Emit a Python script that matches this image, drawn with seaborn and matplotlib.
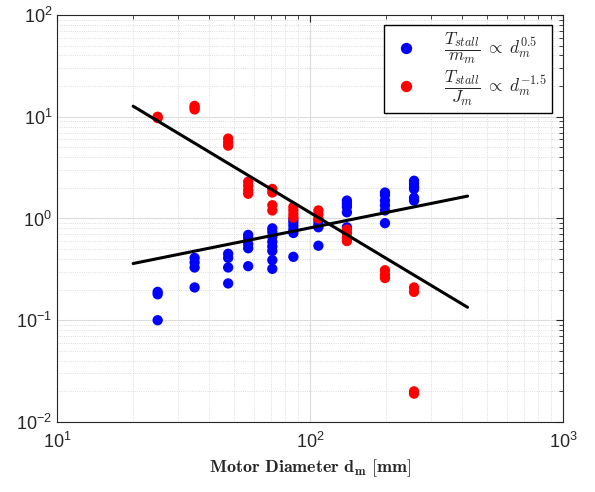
import numpy as np
import pandas as pd
import seaborn as sns
import matplotlib.pyplot as plt

# motor diameters [mm] and the measured ratios at each one
diam_blue = [25, 25, 25,
             35, 35, 35, 35,
             47.5, 47.5, 47.5, 47.5,
             57, 57, 57, 57, 57,
             71, 71, 71, 71, 71, 71, 71, 71,
             86, 86, 86, 86, 86, 86,
             108, 108, 108, 108,
             140, 140, 140, 140, 140,
             198, 198, 198, 198, 198, 198,
             258, 258, 258, 258, 258, 258]
torque_mass = [0.19, 0.18, 0.10,
               0.41, 0.37, 0.33, 0.21,
               0.45, 0.41, 0.33, 0.23,
               0.69, 0.64, 0.56, 0.51, 0.34,
               0.80, 0.74, 0.66, 0.59, 0.53, 0.48, 0.39, 0.32,
               0.98, 0.92, 0.85, 0.78, 0.72, 0.42,
               0.96, 0.88, 0.82, 0.54,
               1.50, 1.40, 1.30, 1.15, 0.82,
               1.80, 1.70, 1.50, 1.35, 1.20, 0.90,
               2.35, 2.20, 2.05, 1.95, 1.60, 1.50]

diam_red = [25, 25,
            35, 35, 35,
            47.5, 47.5, 47.5,
            57, 57, 57, 57,
            71, 71, 71, 71,
            86, 86, 86, 86,
            108, 108, 108,
            140, 140, 140, 140,
            198, 198, 198,
            258, 258, 258, 258]
torque_inertia = [10.0, 9.7,
                  12.8, 12.3, 11.8,
                  6.1, 5.6, 5.2,
                  2.3, 2.1, 1.9, 1.75,
                  1.95, 1.8, 1.35, 1.2,
                  1.3, 1.2, 1.1, 1.02,
                  1.2, 1.1, 1.0,
                  0.78, 0.72, 0.65, 0.60,
                  0.31, 0.28, 0.26,
                  0.21, 0.19, 0.020, 0.019]

# fitted trend lines (end points)
fit_x = [20, 420]
fit_blue = [0.361, 1.66]
fit_red = [12.7, 0.134]

lbl_blue = r"$\dfrac{T_{stall}}{m_m}\;\propto\; d_m^{0.5}$"
lbl_red = r"$\dfrac{T_{stall}}{J_m}\;\propto\; d_m^{-1.5}$"

df = pd.concat([
    pd.DataFrame({"d": diam_blue, "v": torque_mass, "s": lbl_blue}),
    pd.DataFrame({"d": diam_red, "v": torque_inertia, "s": lbl_red}),
])

sns.set_style("white")
plt.rcParams["font.family"] = ["Liberation Sans", "DejaVu Sans"]
plt.rcParams["mathtext.fontset"] = "cm"

fig = plt.figure(figsize=(5.95, 4.92), dpi=100)
ax = fig.add_axes([0.0958, 0.1423, 0.8502, 0.8272])

sns.scatterplot(data=df, x="d", y="v", hue="s", palette=["#0000ff", "#ff0000"],
                s=55, linewidth=0, ax=ax, zorder=3)
sns.lineplot(x=fit_x, y=fit_blue, color="black", linewidth=2.2, ax=ax, zorder=4)
sns.lineplot(x=fit_x, y=fit_red, color="black", linewidth=2.2, ax=ax, zorder=4)

ax.set_xscale("log")
ax.set_yscale("log")
ax.set_xlim(10, 1000)
ax.set_ylim(0.01, 100)

ax.grid(True, which="major", color="#dcdcdc", linewidth=0.8)
ax.grid(True, which="minor", color="#d0d0d0", linewidth=0.6, linestyle=":")
ax.set_axisbelow(True)
ax.tick_params(which="both", direction="in", top=True, right=True,
               labelsize=13, colors="#262626")
ax.tick_params(which="major", length=5)
ax.tick_params(which="minor", length=3)
ax.tick_params(axis="x", which="major", pad=7)
for sp in ax.spines.values():
    sp.set_color("#262626")
    sp.set_linewidth(0.8)

ax.set_xlabel(r"$\mathbf{Motor\ Diameter\ d_m\ [mm]}$", fontsize=13, labelpad=4)
ax.set_ylabel("")

leg = ax.legend(loc="upper right", fontsize=12.5, frameon=True, fancybox=False,
                edgecolor="black", framealpha=1, borderaxespad=0.6,
                borderpad=0.3, handletextpad=1.2, labelspacing=0.15,
                markerscale=1.1)
leg.set_title(None)
leg.get_frame().set_linewidth(1.0)

plt.savefig("out.png", dpi=100)
